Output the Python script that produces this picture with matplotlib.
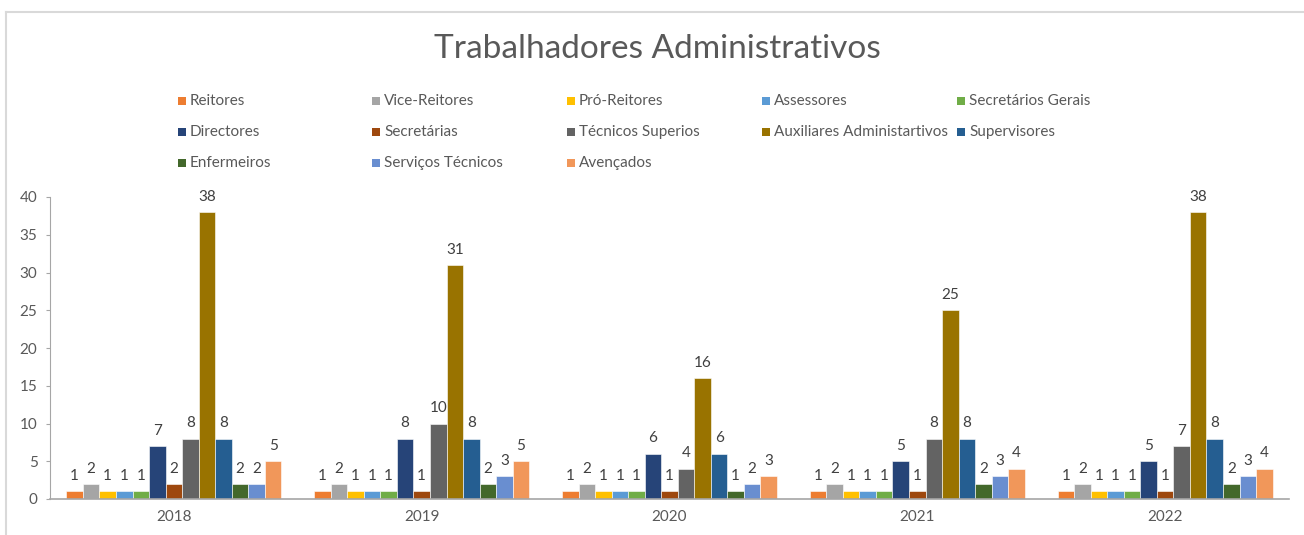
import matplotlib
matplotlib.use("Agg")
import matplotlib.pyplot as plt
import numpy as np
from matplotlib.lines import Line2D
from matplotlib.patches import Rectangle

plt.rcParams['font.family'] = ['Lato', 'DejaVu Sans']

years = ['2018', '2019', '2020', '2021', '2022']
series_names = ['Reitores', 'Vice-Reitores', 'Pró-Reitores', 'Assessores', 'Secretários Gerais',
                'Directores', 'Secretárias', 'Técnicos Superios', 'Auxiliares Administartivos',
                'Supervisores', 'Enfermeiros', 'Serviços Técnicos', 'Avençados']
reitores = [1, 1, 1, 1, 1]
vice_reitores = [2, 2, 2, 2, 2]
pro_reitores = [1, 1, 1, 1, 1]
assessores = [1, 1, 1, 1, 1]
secretarios_gerais = [1, 1, 1, 1, 1]
directores = [7, 8, 6, 5, 5]
secretarias = [2, 1, 1, 1, 1]
tecnicos_superios = [8, 10, 4, 8, 7]
auxiliares = [38, 31, 16, 25, 38]
supervisores = [8, 8, 6, 8, 8]
enfermeiros = [2, 2, 1, 2, 2]
servicos_tecnicos = [2, 3, 2, 3, 3]
avencados = [5, 5, 3, 4, 4]
values = [reitores, vice_reitores, pro_reitores, assessores, secretarios_gerais, directores,
          secretarias, tecnicos_superios, auxiliares, supervisores, enfermeiros,
          servicos_tecnicos, avencados]
colors = ['#ED7D31', '#A5A5A5', '#FFC000', '#5B9BD5', '#70AD47', '#264478', '#9E480E',
          '#636363', '#997300', '#255E91', '#43682B', '#698ED0', '#F1975A']

W, H = 1304, 535
fig = plt.figure(figsize=(W / 100, H / 100), dpi=100)
ax = fig.add_axes([50 / W, 36 / H, (1289 - 50) / W, 302 / H])

n = len(series_names)
group_w = 0.868
bw = group_w / n
x = np.arange(len(years))
for i, (name, vals, c) in enumerate(zip(series_names, values, colors)):
    pos = x - group_w / 2 + bw * (i + 0.5)
    bars = ax.bar(pos, vals, width=bw, color=c, edgecolor='white', linewidth=0.4, label=name)
    for b, v in zip(bars, vals):
        ax.annotate(str(v), (b.get_x() + b.get_width() / 2, v), xytext=(0, 6),
                    textcoords='offset points', ha='center', va='bottom',
                    fontsize=11, color='#404040')

ax.set_xlim(-0.5, len(years) - 0.5)
ax.set_ylim(0, 40)
ax.set_yticks(np.arange(0, 41, 5))
ax.set_xticks(x)
ax.set_xticklabels(years)
ax.tick_params(axis='y', colors='#A6A6A6', labelsize=11, length=3, width=0.8, pad=6,
               labelcolor='#595959')
ax.tick_params(axis='x', length=0, labelsize=11, labelcolor='#595959', pad=8)
for s in ['top', 'right']:
    ax.spines[s].set_visible(False)
ax.spines['left'].set_color('#A6A6A6')
ax.spines['bottom'].set_color('#A6A6A6')
ax.spines['bottom'].set_linewidth(1.2)

fig.text(657 / W, 1 - 49 / H, 'Trabalhadores Administrativos', ha='center', va='center',
         fontsize=24, color='#595959')

# legend (row-wise, equal columns as in Excel)
col_x = [182, 376, 571, 766, 961]
row_y = [101, 132, 163]
sq = 8
for i, (name, c) in enumerate(zip(series_names, colors)):
    r, cc = divmod(i, 5)
    mx, my = col_x[cc], row_y[r]
    fig.add_artist(Rectangle(((mx - sq / 2) / W, 1 - (my + sq / 2) / H), sq / W, sq / H,
                             transform=fig.transFigure, facecolor=c, edgecolor='none'))
    fig.text((mx + 8) / W, 1 - my / H, name, ha='left', va='center', fontsize=11,
             color='#595959')

# chart border
fig.add_artist(Line2D([6 / W, 1], [1 - 12 / H, 1 - 12 / H], transform=fig.transFigure,
                      color='#D9D9D9', linewidth=1.5))
fig.add_artist(Line2D([6 / W, 6 / W], [0, 1 - 12 / H], transform=fig.transFigure,
                      color='#D9D9D9', linewidth=1.5))

fig.savefig('out.png', dpi=100, facecolor='white')
